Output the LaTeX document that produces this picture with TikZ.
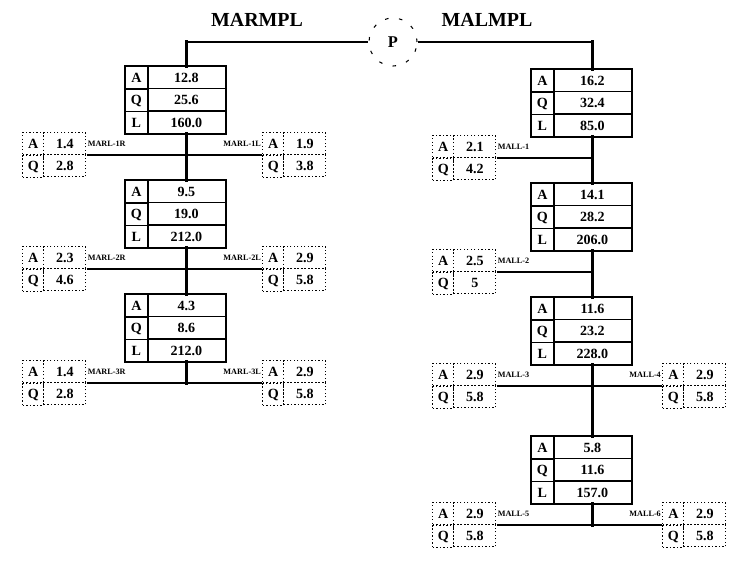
\documentclass[tikz,border=0pt]{standalone}
\usepackage{fontspec}
\setmainfont{Liberation Serif}
\usetikzlibrary{matrix, positioning}

\begin{document}
\begin{tikzpicture}[
    x=0.03cm, y=0.03cm,
    heading/.style={font=\bfseries\fontsize{17}{17}\selectfont},
    pnode/.style={circle, draw, line width=0.9pt, dash pattern=on 3pt off 9pt, minimum size=1.44cm, font=\bfseries\fontsize{14}{14}\selectfont},
    mainbox/.style={matrix of nodes, ampersand replacement=\&, anchor=north west, draw, line width=1.6pt, inner sep=0pt, row sep=-0.8pt, column sep=-0.8pt,
        nodes={draw, solid, line width=0.8pt, inner sep=0pt, minimum height=0.66cm, font=\bfseries\fontsize{12}{12}\selectfont},
        column 1/.style={nodes={minimum width=0.66cm}},
        column 2/.style={nodes={minimum width=2.34cm}}},
    sidebox/.style={matrix of nodes, ampersand replacement=\&, anchor=west, inner sep=0pt, row sep=-1pt, column sep=-1pt,
        nodes={draw, dotted, line width=1pt, inner sep=0pt, minimum height=0.66cm, font=\bfseries\fontsize{12}{12}\selectfont},
        column 1/.style={nodes={minimum width=0.63cm}},
        column 2/.style={nodes={minimum width=1.26cm}}},
    divider/.style={line width=1.6pt},
    spine/.style={line width=3pt, line cap=rect},
    topline/.style={line width=1.5pt},
    branch/.style={line width=0.9pt},
    brlabel/.style={inner sep=1pt, font=\bfseries\fontsize{7}{7}\selectfont}
]
    \useasboundingbox (0,0) rectangle (730,-566);

    % Titles and P
    \node[heading] (marmpl) at (257,-20) {MARMPL};
    \node[heading] (malmpl) at (487,-20) {MALMPL};
    \node[pnode] (p) at (393,-42) {P};

    % Main boxes
    \foreach \nm/\bx/\by/\va/\vq/\vl in {lb1/124/65/12.8/25.6/160.0, lb2/124/179/9.5/19.0/212.0, lb3/124/293/4.3/8.6/212.0,
        rb1/530/68/16.2/32.4/85.0, rb2/530/182/14.1/28.2/206.0, rb3/530/296/11.6/23.2/228.0, rb4/530/435/5.8/11.6/157.0}{
        \matrix[mainbox] (\nm) at (\bx,-\by) {A \& \va \\ Q \& \vq \\ L \& \vl \\};
        \draw[divider] (\nm-1-1.north east) -- (\nm-3-1.south east);
    }

    % Side boxes
    \foreach \nm/\bx/\by/\va/\vq in {marl1r/22/155/1.4/2.8, marl1l/262/155/1.9/3.8, marl2r/22/269/2.3/4.6, marl2l/262/269/2.9/5.8,
        marl3r/22/383/1.4/2.8, marl3l/262/383/2.9/5.8, mall1/432/158/2.1/4.2, mall2/432/272/2.5/5,
        mall3/432/386/2.9/5.8, mall4/662/386/2.9/5.8, mall5/432/525/2.9/5.8, mall6/662/525/2.9/5.8}{
        \matrix[sidebox] (\nm) at (\bx,-\by) {A \& \va \\ Q \& \vq \\};
    }

    % Branch labels
    \foreach \nm/\txt in {marl1r/MARL-1R, marl2r/MARL-2R, marl3r/MARL-3R, mall1/MALL-1, mall2/MALL-2, mall3/MALL-3, mall5/MALL-5}
        \node[brlabel, anchor=west] (\nm-t) at (\nm-1-2.east) {\txt};
    \foreach \nm/\txt in {marl1l/MARL-1L, marl2l/MARL-2L, marl3l/MARL-3L, mall4/MALL-4, mall6/MALL-6}
        \node[brlabel, anchor=east] (\nm-t) at (\nm-1-1.west) {\txt};

    % Top line
    \draw[spine] (lb1-1-2.north) -- (lb1-1-2.north |- p);
    \draw[topline] (lb1-1-2.north |- p) -- (p);
    \draw[topline] (p) -- (p -| rb1-1-2.north);
    \draw[spine] (p -| rb1-1-2.north) -- (rb1-1-2.north);

    % Spines
    \draw[spine] (lb1-3-2.south) -- (lb2-1-2.north);
    \draw[spine] (lb2-3-2.south) -- (lb3-1-2.north);
    \draw[spine] (lb3-3-2.south) -- (lb3-3-2.south |- marl3r);
    \draw[spine] (rb1-3-2.south) -- (rb2-1-2.north);
    \draw[spine] (rb2-3-2.south) -- (rb3-1-2.north);
    \draw[spine] (rb3-3-2.south) -- (rb4-1-2.north);
    \draw[spine] (rb4-3-2.south) -- (rb4-3-2.south |- mall5);

    % Branches
    \draw[branch] (marl1r) -- (marl1l);
    \draw[branch] (marl2r) -- (marl2l);
    \draw[branch] (marl3r) -- (marl3l);
    \draw[branch] (mall1) -- (mall1 -| rb1-3-2.south);
    \draw[branch] (mall2) -- (mall2 -| rb2-3-2.south);
    \draw[branch] (mall3) -- (mall4);
    \draw[branch] (mall5) -- (mall6);
\end{tikzpicture}
\end{document}
